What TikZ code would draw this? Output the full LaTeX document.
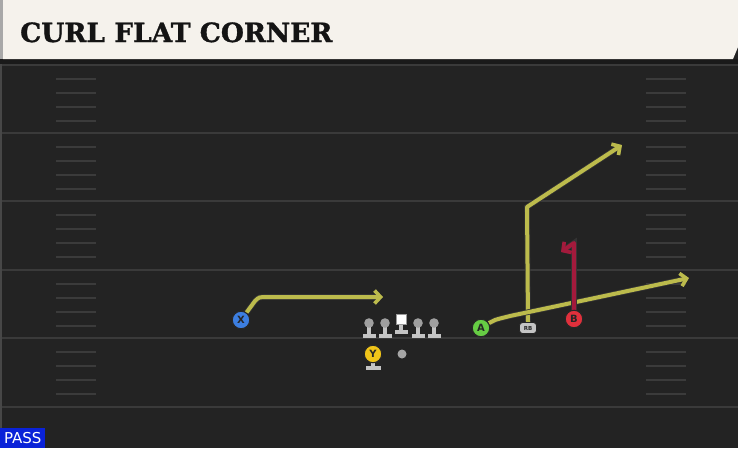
\documentclass[tikz,border=0pt]{standalone}
\usepackage{fontspec}
\usetikzlibrary{arrows.meta}
\newfontfamily\titlefont{DejaVu Serif}[BoldFeatures={FakeBold=1.2}]
\newfontfamily\labfont{DejaVu Sans}
\definecolor{field}{HTML}{232323}
\definecolor{band}{HTML}{1A1A1A}
\definecolor{yardc}{HTML}{3A3A3A}
\definecolor{hashc}{HTML}{3B3B3B}
\definecolor{cream}{HTML}{F5F2EC}
\definecolor{edgegray}{HTML}{A8A8A8}
\definecolor{routey}{HTML}{BCBB4C}
\definecolor{router}{HTML}{A31A3C}
\definecolor{pblue}{HTML}{3C7EE0}
\definecolor{pgreen}{HTML}{66CC44}
\definecolor{pred}{HTML}{E0303C}
\definecolor{pyellow}{HTML}{F0C419}
\definecolor{linegray}{HTML}{C4C4C4}
\definecolor{passblue}{HTML}{0A22D8}
\pgfdeclarelayer{fieldlayer}
\pgfdeclarelayer{routelayer}
\pgfsetlayers{fieldlayer,routelayer,main}
\tikzset{
  yardline/.style={draw=yardc, line width=2pt},
  hashmark/.style={draw=hashc, line width=1.5pt},
  player/.style={circle, draw=black!85, line width=1pt, minimum size=17.5pt, inner sep=0pt,
    font=\labfont\bfseries\fontsize{10}{10}\selectfont, text=black!85},
  route/.style={line width=4pt, line join=round,
    preaction={draw=black!80, line width=5.6pt}},
  yroute/.style={route, draw=routey, -{Straight Barb[length=6pt,width=13pt,line width=3.6pt]}},
  rroute/.style={route, draw=router, -{Straight Barb[length=6pt,width=13pt,line width=3.6pt]}},
  lineman/.pic={
    \fill[linegray] (-2.2,-1) rectangle (2.2,11);
    \fill[linegray] (-6.5,11) rectangle (6.5,15);
    \fill[gray!75] (0,0) circle (4.8pt);
  },
}
\begin{document}
\begin{tikzpicture}[x=1pt,y=-1pt]
\useasboundingbox (0,0) rectangle (738,448);
\begin{pgfonlayer}{fieldlayer}
\fill[field] (0,0) rectangle (738,448);
\fill[black!72] (0,59) rectangle (2,448);
\fill[band] (0,59) rectangle (738,64);
\foreach \y in {65,133,201,270,338,407} \draw[yardline] (2,\y) -- (738,\y);
\foreach \y in {65,133,201,270,338} {
  \foreach \d in {14,28,42,56} {
    \draw[hashmark] (56,\y+\d) -- (96,\y+\d);
    \draw[hashmark] (646,\y+\d) -- (686,\y+\d);
  }
}
\fill[cream] (3,0) -- (738,0) -- (738,47) -- (733,59) -- (3,59) -- cycle;
\fill[edgegray] (0,0) rectangle (3,59);
\end{pgfonlayer}

\node[anchor=base west, inner sep=0pt, text=black!92, font=\titlefont\bfseries\fontsize{26.5}{26.5}\selectfont] (title) at (20,42) {CURL FLAT CORNER};

\node[fill=passblue, anchor=south west, minimum width=45pt, minimum height=20pt, inner sep=0pt,
  text=white, font=\labfont\fontsize{15}{15}\selectfont] (pass) at (0,448) {PASS};

% offensive line
\pic at (369,323) {lineman};
\pic at (385,323) {lineman};
\pic at (418,323) {lineman};
\pic at (434,323) {lineman};
\fill[linegray] (398.8,322) rectangle (403.2,330);
\fill[linegray] (394.5,330) rectangle (407.5,334);
\node[fill=white, draw=black!40, minimum size=10pt, inner sep=0pt] (C) at (401,319) {};

% backs and receivers
\fill[linegray] (370.8,361) rectangle (375.2,366);
\fill[linegray] (365.5,366) rectangle (380.5,370);
\node[player, fill=pyellow] (Y) at (373,354) {Y};
\node[circle, fill=gray!70, minimum size=9pt, inner sep=0pt] (ball) at (402,354) {};
\node[player, fill=pblue] (X) at (241,320) {X};
\node[player, fill=pgreen] (A) at (481,328) {A};
\node[player, fill=pred] (B) at (574,319) {B};
\node[fill=linegray, draw=black!85, line width=0.9pt, rounded corners=3pt, minimum width=17pt, minimum height=11pt, inner sep=0pt,
  font=\labfont\bfseries\fontsize{5.5}{5.5}\selectfont, text=black!85] (RB) at (528,328) {RB};

\coordinate (xend) at (383,297);
\coordinate (aend) at (689,278);
\coordinate (rbend) at (622,145);
\coordinate (bend) at (561,252);

\begin{pgfonlayer}{routelayer}
\draw[yroute] (X) -- (255,301) .. controls (259,297) .. (268,297) -- (xend);
\draw[yroute] (RB.north) -- (527,207) -- (rbend);
\draw[yroute] (A) .. controls (494,320) .. (510,316) -- (aend);
\draw[rroute] (B) -- (574,243) -- (bend);
\end{pgfonlayer}
\end{tikzpicture}
\end{document}
